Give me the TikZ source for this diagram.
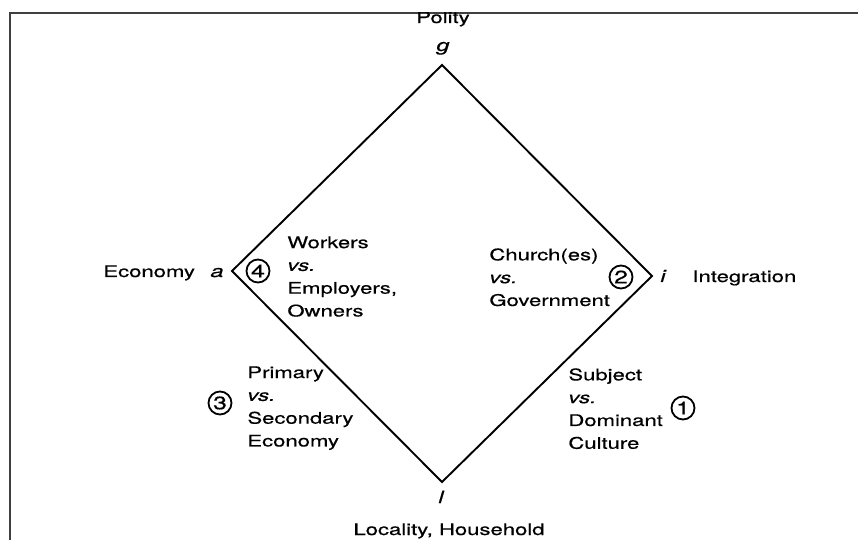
\documentclass[tikz,border=0pt]{standalone}
\usepackage{fontspec}
\setmainfont{TeX Gyre Heros}[FakeStretch=1.38,FakeBold=0.6]
\usetikzlibrary{positioning}

\begin{document}
\begin{tikzpicture}[x=0.5pt, y=-0.5pt,
    every node/.style={inner sep=0pt, font=\fontsize{8}{11.4}\selectfont},
    frame/.style={line width=1pt, draw=black!75},
    side/.style={line width=0.95pt},
    letter/.style={anchor=base, font=\fontsize{8.5}{11.4}\selectfont\itshape},
    realm/.style={anchor=base west},
    pair/.style={anchor=north west, align=left},
    num/.style={circle, draw, line width=0.9pt, minimum size=11.5pt,
      font=\fontsize{9}{9}\selectfont}]

  \useasboundingbox (0,0) rectangle (858,540);

  %% frame
  \draw[frame] (10,540) -- (10,13) -- (858,13);

  %% the four corners
  \coordinate (g) at (442,65);
  \coordinate (i) at (652,276);
  \coordinate (l) at (442,482);
  \coordinate (a) at (232,271);
  \draw[side] (g) -- (i) -- (l) -- (a) -- cycle;

  \node[letter] (gl) at (443,51)  {g};
  \node[letter] (al) at (217,277) {a};
  \node[letter] (il) at (663,282) {i};
  \node[letter] (ll) at (441,503) {l};

  %% subsystems
  \begin{scope}
    \clip (0,13) rectangle (858,540);
    \node[anchor=base] (polity) at (443,23) {Polity};
  \end{scope}
  \node[realm] (economy)     at (103,277) {Economy};
  \node[realm] (integration) at (692,282) {Integration};
  \node[anchor=base] (locality) at (449,535) {Locality, Household};

  %% conflicts
  \node[num] (n4) at (258,271) {4};
  \node[pair] (workers) at (287,236) {Workers\\\textit{vs.}\\Employers,\\Owners};
  \node[num] (n2) at (621,277) {2};
  \node[pair] (church) at (489,248) {Church(es)\\\textit{vs.}\\Government};
  \node[num] (n3) at (220,403) {3};
  \node[pair] (primary) at (247,366) {Primary\\\textit{vs.}\\Secondary\\Economy};
  \node[num] (n1) at (683,408) {1};
  \node[pair] (subject) at (568,368) {Subject\\\textit{vs.}\\Dominant\\Culture};

\end{tikzpicture}
\end{document}
